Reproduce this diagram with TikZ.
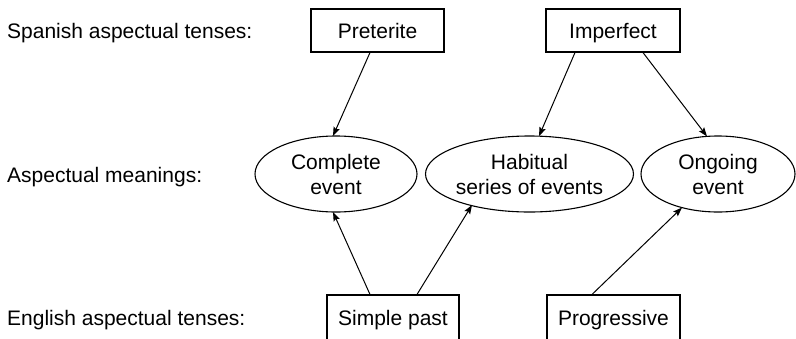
\documentclass[tikz,border=0pt]{standalone}
\usepackage{fontspec}
\setmainfont{Liberation Sans}
\usetikzlibrary{shapes.geometric,arrows.meta,calc}
\begin{document}
\begin{tikzpicture}[x=1pt,y=-1pt,
  every node/.style={font=\fontsize{21}{25}\selectfont},
  tensebox/.style={draw,line width=1.1pt,rectangle,minimum height=43,inner sep=0,text depth=0pt},
  meaning/.style={draw,line width=1.1pt,ellipse,inner sep=0,align=center,minimum height=76},
  rowlabel/.style={anchor=base west,inner sep=0},
  link/.style={line width=1pt,-{Stealth[length=9pt,width=6.5pt,inset=1.5pt]}}]
\clip (0,0) rectangle (796,338);
\fill[white] (0,0) rectangle (796,338);
% row labels
\node[rowlabel] (l1) at (7,38) {Spanish aspectual tenses:};
\node[rowlabel] (l2) at (7,182) {Aspectual meanings:};
\node[rowlabel] (l3) at (7,325) {English aspectual tenses:};
% Spanish tenses
\node[tensebox,minimum width=133] (pret) at (377.5,30.5) {Preterite};
\node[tensebox,minimum width=134] (imp) at (613,30.5) {Imperfect};
% meanings
\node[meaning,minimum width=162] (comp) at (336,174) {Complete\\event};
\node[meaning,minimum width=197] (hab) at (529.5,174) {Habitual\\series of events};
\node[meaning,minimum width=154] (ong) at (718,174) {Ongoing\\event};
% English tenses
\node[tensebox,minimum width=132,minimum height=46] (sp) at (393,318) {Simple past};
\node[tensebox,minimum width=133,minimum height=46] (prog) at (613.5,318) {Progressive};
% connectors
\draw[link] ($(pret.south)+(-7.5,0)$) -- ($(comp.center)+(-3,-38)$);
\draw[link] ($(imp.south)+(-38,0)$) -- ($(hab.center)+(9.5,-37.8)$);
\draw[link] ($(imp.south)+(30,0)$) -- ($(ong.center)+(-11,-37.6)$);
\draw[link] ($(sp.north)+(-23,0)$) -- ($(comp.center)+(-3,38)$);
\draw[link] ($(sp.north)+(24,0)$) -- ($(hab.center)+(-57.5,31)$);
\draw[link] ($(prog.north)+(-21.5,0)$) -- ($(ong.center)+(-36,33.6)$);
\end{tikzpicture}
\end{document}
